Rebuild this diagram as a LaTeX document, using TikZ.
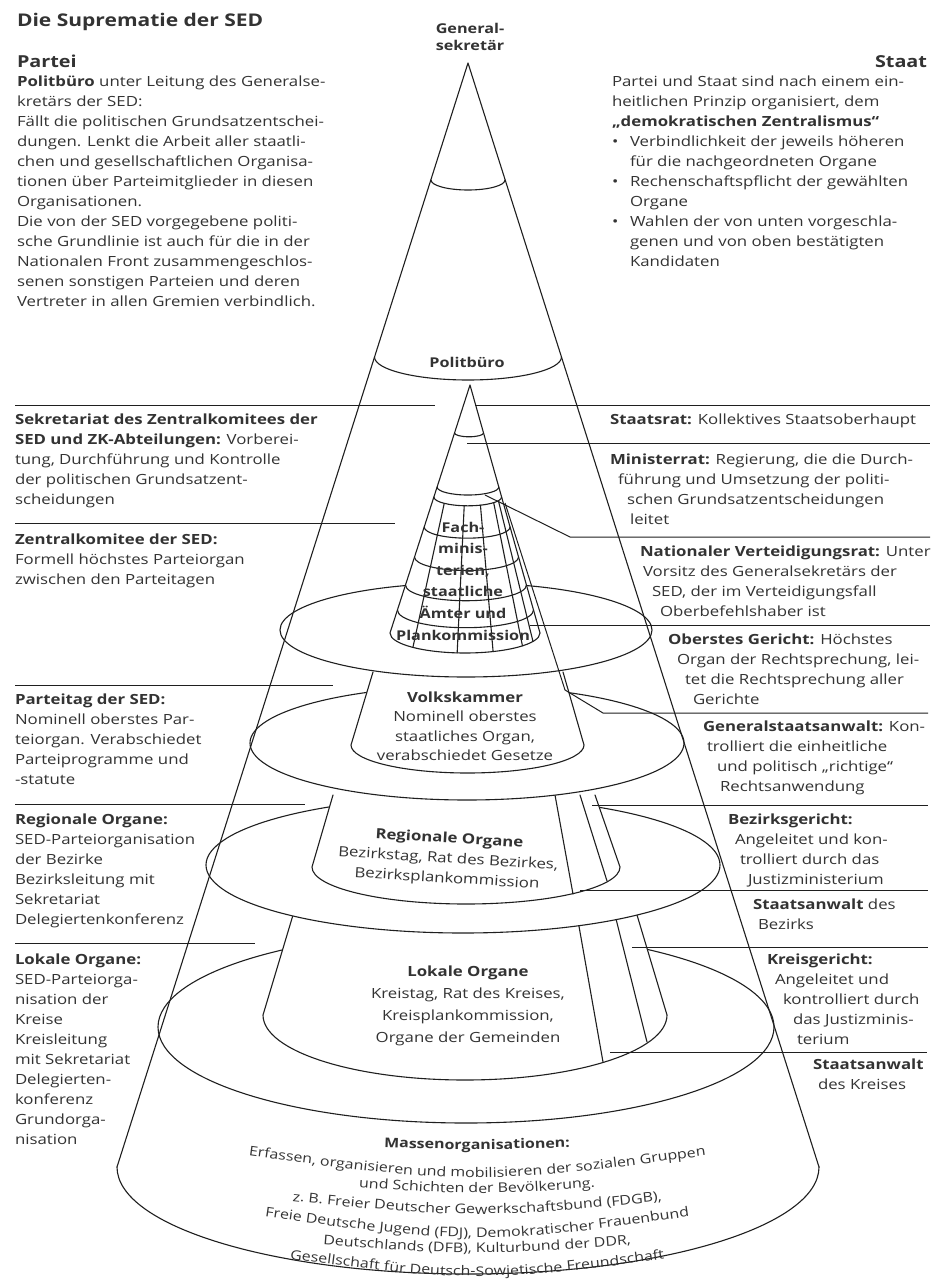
\documentclass[tikz,border=0pt]{standalone}
\usepackage{fontspec}
\setmainfont{Open Sans}[FakeStretch=1.2]
\usetikzlibrary{decorations.text}
\definecolor{ink}{gray}{0.12}
\definecolor{txt}{gray}{0.2}
\newcommand\fl{\rule{0pt}{14pt}}
\newcommand\mfont{\fontsize{13.3}{16}\selectfont\color{txt}}
\begin{document}
\begin{tikzpicture}[x=1pt,y=-1pt,
  ln/.style={draw=ink,line width=1.1pt,line join=round,line cap=round},
  lead/.style={draw=ink,line width=1pt},
  blk/.style={inner sep=0pt,outer sep=0pt,text=txt,font=\fontsize{14}{20}\selectfont,align=left,anchor=north west},
  cblk/.style={inner sep=0pt,outer sep=0pt,text=txt,font=\fontsize{14}{20}\selectfont,align=center,anchor=north},
  one/.style={inner sep=0pt,outer sep=0pt,text=txt,font=\fontsize{14}{20}\selectfont},
  curv/.style={decorate,decoration={text along path,text align=center,text={#1}}}
]
\fill[white] (0,0) rectangle (937,1284);
\useasboundingbox (0,0) rectangle (937,1284);

% ---------- local level ----------
\filldraw[ln,fill=white] (466,1027) ellipse [x radius=308,y radius=96];
\filldraw[ln,fill=white] (293,915) -- (263,1015) arc[start angle=180,end angle=0,x radius=202,y radius=65] -- (637,915);
\draw[ln] (577,915) -- (603,1062);
\draw[ln] (615,915) -- (647,1042);
% ---------- regional level ----------
\filldraw[ln,fill=white] (463,865) ellipse [x radius=257,y radius=68];
\filldraw[ln,fill=white] (333,795) -- (312,867) arc[start angle=180,end angle=0,x radius=154,y radius=37] -- (595,795);
\draw[ln] (555,795) -- (573,894);
\draw[ln] (580,795) -- (607,881);
% ---------- Parteitag / Volkskammer ----------
\filldraw[ln,fill=white] (467,743) ellipse [x radius=217,y radius=57];
\filldraw[ln,fill=white] (373,672) -- (351,745) arc[start angle=180,end angle=0,x radius=116.5,y radius=28] -- (563,672);
% ---------- ZK brim ----------
\filldraw[ln,fill=white] (466,630) ellipse [x radius=186,y radius=47];
% ---------- inner state cone ----------
\filldraw[ln,fill=white] (470,385) -- (390,633) arc[start angle=180,end angle=0,x radius=75,y radius=20] -- cycle;
\foreach \yy in {433,487,497,527,557,585,610}{
  \pgfmathsetmacro\xl{470-0.3226*(\yy-385)}
  \pgfmathsetmacro\xr{470+0.2823*(\yy-385)}
  \pgfmathsetmacro\rx{(\xr-\xl)/2}
  \pgfmathsetmacro\ry{0.26*\rx}
  \draw[ln] (\xl,\yy) arc[start angle=180,end angle=0,x radius=\rx,y radius=\ry];
}
\foreach \t in {134,96,68,40,25}{
  \draw[ln] ([shift={(467.75,497)}]\t:33.85 and 8.8) -- ([shift={(465,633)}]\t:75 and 20);
}
% ---------- party cone ----------
\draw[ln] (431,180) arc[start angle=180,end angle=0,x radius=37,y radius=10];
\draw[ln] (374.5,357) arc[start angle=180,end angle=0,x radius=93.5,y radius=23];
\draw[ln] (117,1167) -- (468,63) -- (819,1167);
\draw[ln] (117,1167) arc[start angle=180,end angle=0,x radius=351,y radius=107];

% ---------- leader lines ----------
\draw[lead] (15,405) -- (435,405);
\draw[lead] (15,523) -- (395,523);
\draw[lead] (15,685) -- (333,685);
\draw[lead] (15,804) -- (305,804);
\draw[lead] (15,943) -- (255,943);
\draw[lead] (475,405) -- (930,405);
\draw[lead] (467,443) -- (930,443);
\draw[lead] (485,495) -- (570,537) -- (930,537);
\draw[lead] (530,625) -- (930,625);
\draw[lead] (505,503) -- (565,690) -- (603,713) -- (928,713);
\draw[lead] (592,805) -- (928,805);
\draw[lead] (580,890) -- (928,890);
\draw[lead] (632,947) -- (928,947);
\draw[lead] (610,1052) -- (927,1052);

% ---------- texts ----------
\node[one,anchor=base west,font=\fontsize{17.5}{22}\selectfont\bfseries] (title) at (17,27) {Die Suprematie der SED};
\node[one,anchor=base west,font=\fontsize{16.5}{20}\selectfont\bfseries] (partei) at (17,68) {Partei};
\node[one,anchor=base east,font=\fontsize{16.5}{20}\selectfont\bfseries] (staat) at (927,68) {Staat};
\node[cblk,font=\fontsize{13.5}{17}\selectfont\bfseries] (gs) at (470,21) {\rule{0pt}{13pt}General-\\sekretär};
\node[one,anchor=base,font=\fontsize{13.5}{16}\selectfont\bfseries] (pb) at (467,367) {Politbüro};

\node[blk] (ltop) at (17,72) {\fl\textbf{Politbüro} unter Leitung des Generalse-\\
kretärs der SED:\\
Fällt die politischen Grundsatzentschei-\\
dungen. Lenkt die Arbeit aller staatli-\\
chen und gesellschaftlichen Organisa-\\
tionen über Parteimitglieder in diesen\\
Organisationen.\\
Die von der SED vorgegebene politi-\\
sche Grundlinie ist auch für die in der\\
Nationalen Front zusammengeschlos-\\
senen sonstigen Parteien und deren\\
Vertreter in allen Gremien verbindlich.};

\node[blk] (rtop) at (612,72) {\fl Partei und Staat sind nach einem ein-\\
heitlichen Prinzip organisiert, dem\\
\textbf{„demokratischen Zentralismus“}\\
\makebox[18pt][l]{•}Verbindlichkeit der jeweils höheren\\
\hspace*{18pt}für die nachgeordneten Organe\\
\makebox[18pt][l]{•}Rechenschaftspflicht der gewählten\\
\hspace*{18pt}Organe\\
\makebox[18pt][l]{•}Wahlen der von unten vorgeschla-\\
\hspace*{18pt}genen und von oben bestätigten\\
\hspace*{18pt}Kandidaten};

\node[blk] (sek) at (15,410) {\fl\textbf{Sekretariat des Zentralkomitees der}\\
\textbf{SED und ZK-Abteilungen:} Vorberei-\\
tung, Durchführung und Kontrolle\\
der politischen Grundsatzent-\\
scheidungen};
\node[blk] (zk) at (15,530) {\fl\textbf{Zentralkomitee der SED:}\\
Formell höchstes Parteiorgan\\
zwischen den Parteitagen};
\node[blk] (pt) at (15,690) {\fl\textbf{Parteitag der SED:}\\
Nominell oberstes Par-\\
teiorgan. Verabschiedet\\
Parteiprogramme und\\
-statute};
\node[blk] (ro) at (15,810) {\fl\textbf{Regionale Organe:}\\
SED-Parteiorganisation\\
der Bezirke\\
Bezirksleitung mit\\
Sekretariat\\
Delegiertenkonferenz};
\node[blk] (lo) at (15,950) {\fl\textbf{Lokale Organe:}\\
SED-Parteiorga-\\
nisation der\\
Kreise\\
Kreisleitung\\
mit Sekretariat\\
Delegierten-\\
konferenz\\
Grundorga-\\
nisation};

\node[blk] (sr) at (610,410) {\fl\textbf{Staatsrat:} Kollektives Staatsoberhaupt};
\node[blk] (mr) at (610,450) {\fl\textbf{Ministerrat:} Regierung, die die Durch-\\
\hspace*{8pt}führung und Umsetzung der politi-\\
\hspace*{17pt}schen Grundsatzentscheidungen\\
\hspace*{20pt}leitet};
\node[blk] (nvr) at (640,542) {\fl\textbf{Nationaler Verteidigungsrat:} Unter\\
\hspace*{3pt}Vorsitz des Generalsekretärs der\\
\hspace*{12pt}SED, der im Verteidigungsfall\\
\hspace*{20pt}Oberbefehlshaber ist};
\node[blk] (og) at (668,630) {\fl\textbf{Oberstes Gericht:} Höchstes\\
\hspace*{9pt}Organ der Rechtsprechung, lei-\\
\hspace*{17pt}tet die Rechtsprechung aller\\
\hspace*{25pt}Gerichte};
\node[blk] (gsa) at (703,717) {\fl\textbf{Generalstaatsanwalt:} Kon-\\
\hspace*{4pt}trolliert die einheitliche\\
\hspace*{14pt}und politisch „richtige“\\
\hspace*{17pt}Rechtsanwendung};
\node[blk] (bg) at (728,810) {\fl\textbf{Bezirksgericht:}\\
\hspace*{7pt}Angeleitet und kon-\\
\hspace*{12pt}trolliert durch das\\
\hspace*{20pt}Justizministerium};
\node[blk] (sab) at (753,895) {\fl\textbf{Staatsanwalt} des\\
\hspace*{5pt}Bezirks};
\node[blk] (kg) at (767,950) {\fl\textbf{Kreisgericht:}\\
\hspace*{8pt}Angeleitet und\\
\hspace*{16pt}kontrolliert durch\\
\hspace*{26pt}das Justizminis-\\
\hspace*{30pt}terium};
\node[blk] (sak) at (813,1055) {\fl\textbf{Staatsanwalt}\\
\hspace*{5pt}des Kreises};

\node[cblk,font=\fontsize{13.5}{21.6}\selectfont\bfseries] (fm) at (463,518) {\fl Fach-\\minis-\\terien,\\staatliche\\Ämter und\\Plankommission};
\node[cblk,font=\fontsize{14}{19.5}\selectfont] (vk) at (465,688) {\fl\textbf{Volkskammer}\\Nominell oberstes\\staatliches Organ,\\verabschiedet Gesetze};
\node[cblk,rotate=-3.5] (rg) at (450,829) {\fl\textbf{Regionale Organe}\\Bezirkstag, Rat des Bezirkes,\\Bezirksplankommission};
\node[cblk,font=\fontsize{14}{22}\selectfont] (lk) at (468,962) {\fl\textbf{Lokale Organe}\\Kreistag, Rat des Kreises,\\Kreisplankommission,\\Organe der Gemeinden};

% ---------- mass organisations (curved) ----------
\path[curv={|\mfont\bfseries|Massenorganisationen:}] (260,1142.5) .. controls (477,1151.5) .. (694,1142.5);
\path[curv={|\mfont|Erfassen, organisieren und mobilisieren der sozialen Gruppen}] (174,1145) .. controls (477,1188) .. (780,1145);
\path[curv={|\mfont|und Schichten der Bevölkerung.}] (280,1181) .. controls (477,1197) .. (674,1181);
\path[curv={|\mfont|z. B. Freier Deutscher Gewerkschaftsbund (FDGB),}] (217,1193) .. controls (477,1221) .. (737,1193);
\path[curv={|\mfont|Freie Deutsche Jugend (FDJ), Demokratischer Frauenbund}] (190,1205.4) .. controls (477,1248) .. (764,1205.4);
\path[curv={|\mfont|Deutschlands (DFB), Kulturbund der DDR,}] (250,1238.5) .. controls (477,1257.5) .. (704,1238.5);
\path[curv={|\mfont|Gesellschaft für Deutsch-Sowjetische Freundschaft}] (217,1249) .. controls (477,1285) .. (737,1249);
\end{tikzpicture}
\end{document}
